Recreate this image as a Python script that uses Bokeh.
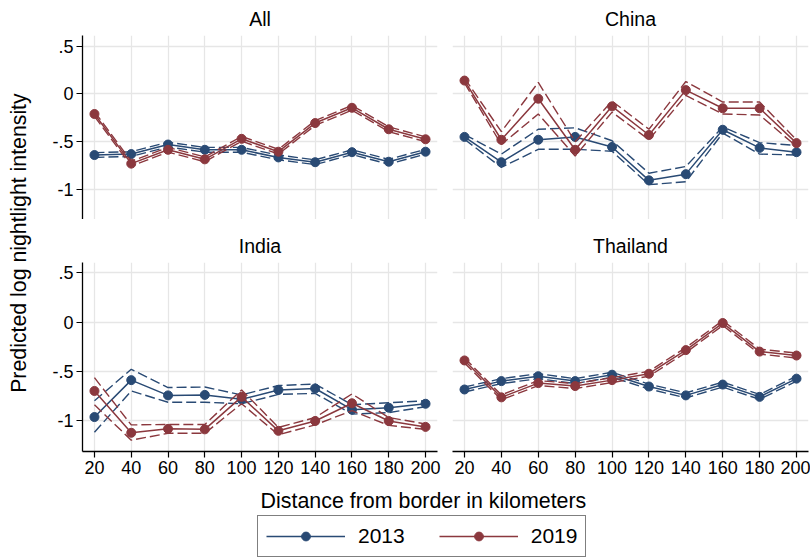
import math
from bokeh.plotting import figure
from bokeh.models import (Range1d, FixedTicker, Label, Legend, LegendItem, ColumnDataSource,
                          GridBox)
from bokeh.embed import file_html
from bokeh.resources import INLINE

# ---------------- data ----------------
distance = [20, 40, 60, 80, 100, 120, 140, 160, 180, 200]
x_ticks = [20, 40, 60, 80, 100, 120, 140, 160, 180, 200]
y_ticks = [-1.0, -0.5, 0.0, 0.5]
y_tick_labels = ["-1", "-.5", "0", ".5"]
years = ["2013", "2019"]
panel_titles = ["All", "China", "India", "Thailand"]

all_2013 = [-0.64, -0.63, -0.53, -0.585, -0.585, -0.665, -0.715, -0.61, -0.71, -0.605]
all_2013_lo = [-0.665, -0.655, -0.555, -0.61, -0.61, -0.69, -0.74, -0.635, -0.735, -0.63]
all_2013_hi = [-0.615, -0.605, -0.505, -0.56, -0.56, -0.64, -0.69, -0.585, -0.685, -0.58]
all_2019 = [-0.21, -0.73, -0.585, -0.685, -0.47, -0.605, -0.305, -0.145, -0.37, -0.475]
all_2019_lo = [-0.235, -0.755, -0.61, -0.71, -0.495, -0.63, -0.33, -0.17, -0.395, -0.5]
all_2019_hi = [-0.185, -0.705, -0.56, -0.66, -0.445, -0.58, -0.28, -0.12, -0.345, -0.45]

china_2013 = [-0.45, -0.715, -0.48, -0.45, -0.555, -0.905, -0.84, -0.375, -0.565, -0.61]
china_2013_lo = [-0.475, -0.77, -0.58, -0.58, -0.6, -0.95, -0.92, -0.41, -0.63, -0.64]
china_2013_hi = [-0.425, -0.63, -0.37, -0.355, -0.49, -0.83, -0.76, -0.345, -0.51, -0.54]
china_2019 = [0.14, -0.48, -0.05, -0.585, -0.13, -0.43, 0.04, -0.15, -0.15, -0.515]
china_2019_lo = [0.115, -0.53, -0.21, -0.65, -0.19, -0.48, -0.015, -0.21, -0.22, -0.55]
china_2019_hi = [0.165, -0.395, 0.12, -0.5, -0.075, -0.37, 0.13, -0.085, -0.085, -0.48]

india_2013 = [-0.965, -0.59, -0.745, -0.74, -0.785, -0.69, -0.675, -0.89, -0.87, -0.83]
india_2013_lo = [-1.12, -0.70, -0.815, -0.815, -0.83, -0.735, -0.725, -0.935, -0.92, -0.86]
india_2013_hi = [-0.80, -0.48, -0.665, -0.66, -0.74, -0.645, -0.63, -0.84, -0.82, -0.80]
india_2019 = [-0.70, -1.125, -1.085, -1.09, -0.76, -1.105, -1.005, -0.825, -1.005, -1.065]
india_2019_lo = [-0.84, -1.20, -1.13, -1.13, -0.83, -1.145, -1.045, -0.90, -1.05, -1.09]
india_2019_hi = [-0.565, -1.045, -1.04, -1.04, -0.69, -1.07, -0.97, -0.73, -0.97, -1.035]

thai_2013 = [-0.685, -0.60, -0.55, -0.60, -0.535, -0.655, -0.745, -0.635, -0.76, -0.575]
thai_2013_lo = [-0.71, -0.625, -0.575, -0.625, -0.56, -0.68, -0.77, -0.66, -0.785, -0.6]
thai_2013_hi = [-0.66, -0.575, -0.525, -0.575, -0.51, -0.63, -0.72, -0.61, -0.735, -0.55]
thai_2019 = [-0.39, -0.765, -0.62, -0.65, -0.59, -0.525, -0.285, -0.01, -0.30, -0.34]
thai_2019_lo = [-0.415, -0.79, -0.645, -0.675, -0.615, -0.55, -0.31, -0.035, -0.325, -0.365]
thai_2019_hi = [-0.365, -0.74, -0.595, -0.625, -0.565, -0.5, -0.26, 0.015, -0.275, -0.315]

# ---------------- style ----------------
FONT = "Liberation Sans"
BLUE = "#294a74"
RED = "#8b383e"
GRID = "#e6e6e6"


def make_panel(title, series, is_left, is_bottom):
    b_left = 50 if is_left else 0
    b_right = 15 if is_left else 2
    b_top = 43 if is_bottom else 29
    b_bottom = 34 if is_bottom else 0
    fw = 355 if is_left else 356
    fh = 189 if is_bottom else 190
    p = figure(
        width=b_left + fw + b_right, height=b_top + fh + b_bottom,
        x_range=Range1d(13.5, 206.5),
        y_range=Range1d(-1.315, 0.605 if is_bottom else 0.612),
        output_backend="svg", toolbar_location=None,
        min_border_left=b_left, min_border_right=b_right,
        min_border_top=b_top, min_border_bottom=b_bottom,
        background_fill_color="white", border_fill_color="white",
    )
    p.outline_line_color = None
    p.title.text = title
    p.title.align = "center"
    p.title.text_font = FONT
    p.title.text_font_size = "19.5px"
    p.title.text_font_style = "normal"
    p.title.text_color = "black"
    p.title.standoff = 11

    p.xgrid.ticker = FixedTicker(ticks=x_ticks)
    p.ygrid.ticker = FixedTicker(ticks=y_ticks)
    p.xgrid.grid_line_color = GRID
    p.ygrid.grid_line_color = GRID
    p.xgrid.grid_line_width = 1.3
    p.ygrid.grid_line_width = 1.3

    for ax in p.xaxis:
        ax.ticker = FixedTicker(ticks=x_ticks)
        ax.visible = is_bottom
    for ax in p.yaxis:
        ax.ticker = FixedTicker(ticks=y_ticks)
        ax.major_label_overrides = {t: l for t, l in zip(y_ticks, y_tick_labels)}
        ax.visible = is_left
    for ax in list(p.xaxis) + list(p.yaxis):
        ax.axis_line_color = "black"
        ax.axis_line_width = 1.3
        ax.major_tick_line_color = "black"
        ax.major_tick_line_width = 1.2
        ax.major_tick_out = 6
        ax.major_tick_in = 0
        ax.minor_tick_line_color = None
        ax.major_label_text_font = FONT
        ax.major_label_text_font_size = "18px"
        ax.major_label_text_color = "black"
        ax.major_label_standoff = 3

    for (est, lo, hi), color in zip(series, [BLUE, RED]):
        src = ColumnDataSource(dict(x=distance, est=est, lo=lo, hi=hi))
        p.line("x", "lo", source=src, line_color=color, line_width=1.4, line_dash="10 4")
        p.line("x", "hi", source=src, line_color=color, line_width=1.4, line_dash="10 4")
        p.line("x", "est", source=src, line_color=color, line_width=1.5)
        p.scatter("x", "est", source=src, marker="circle", size=9,
                  fill_color=color, line_color=color)
    return p


p_all = make_panel(panel_titles[0], [(all_2013, all_2013_lo, all_2013_hi),
                                     (all_2019, all_2019_lo, all_2019_hi)], True, False)
p_china = make_panel(panel_titles[1], [(china_2013, china_2013_lo, china_2013_hi),
                                       (china_2019, china_2019_lo, china_2019_hi)], False, False)
p_india = make_panel(panel_titles[2], [(india_2013, india_2013_lo, india_2013_hi),
                                       (india_2019, india_2019_lo, india_2019_hi)], True, True)
p_thai = make_panel(panel_titles[3], [(thai_2013, thai_2013_lo, thai_2013_hi),
                                      (thai_2019, thai_2019_lo, thai_2019_hi)], False, True)

# y-axis title strip
ytf = figure(width=32, height=485, x_range=Range1d(0, 32), y_range=Range1d(0, 485),
             output_backend="svg", toolbar_location=None, min_border=0)
ytf.axis.visible = False
ytf.grid.visible = False
ytf.outline_line_color = None
ytf.add_layout(Label(x=18, y=243, text="Predicted log nightlight intensity", angle=math.pi / 2,
                     text_align="center", text_baseline="middle", text_font=FONT,
                     text_font_size="21.3px", text_color="black"))

# bottom strip: x title + legend
bf = figure(width=810, height=75, x_range=Range1d(0, 810), y_range=Range1d(0, 75),
            output_backend="svg", toolbar_location=None, min_border=0)
bf.axis.visible = False
bf.grid.visible = False
bf.outline_line_color = None
bf.add_layout(Label(x=424, y=60, text="Distance from border in kilometers",
                    text_align="center", text_baseline="middle", text_font=FONT,
                    text_font_size="21.4px", text_color="black"))
items = []
for yr, color, est in zip(years, [BLUE, RED], [all_2013, all_2019]):
    lr = bf.line(x=distance, y=est, line_color=color, line_width=1.5, visible=False)
    sr = bf.scatter(x=distance, y=est, marker="circle", size=10, fill_color=color,
                    line_color=color, visible=False)
    items.append(LegendItem(label=yr, renderers=[lr, sr]))
leg = Legend(items=items, orientation="horizontal", location=(257, 3),
             border_line_color="black", border_line_width=1.2, background_fill_color="white",
             background_fill_alpha=1.0, margin=0, padding=8, glyph_width=79, glyph_height=22,
             label_standoff=13, spacing=34, label_text_font=FONT, label_text_font_size="21px",
             label_text_color="black", inactive_fill_alpha=0.0)
bf.add_layout(leg)

layout = GridBox(
    children=[(ytf, 0, 0, 2, 1), (p_all, 0, 1), (p_china, 0, 2),
              (p_india, 1, 1), (p_thai, 1, 2), (bf, 2, 0, 1, 3)],
    rows=["219px", "266px", "75px"], cols=["32px", "420px", "358px"], spacing=0,
    width=810, height=560, sizing_mode="fixed",
)
open("out.html", "w").write(file_html(layout, INLINE))
